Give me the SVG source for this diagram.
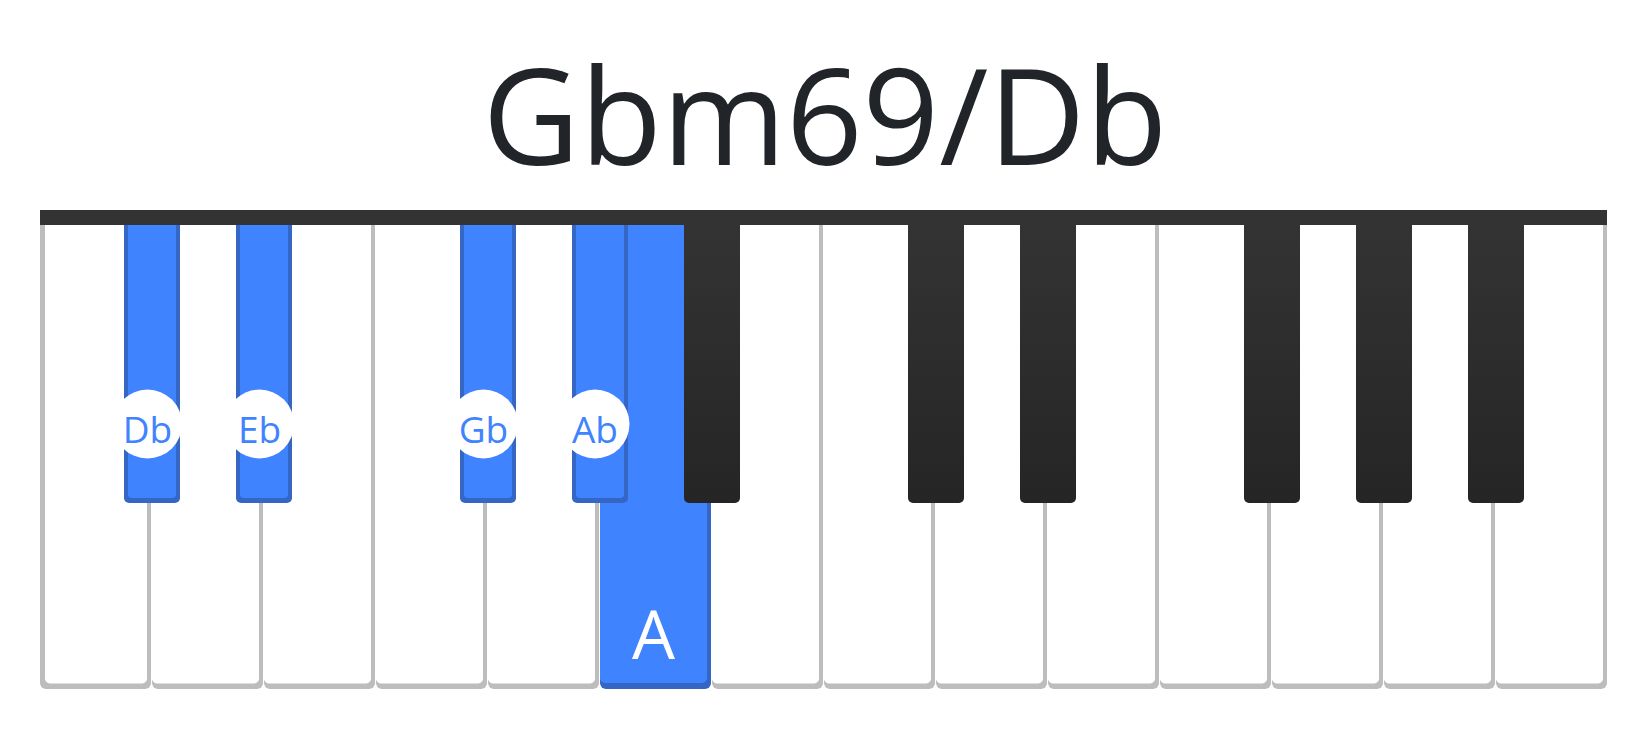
<svg xmlns="http://www.w3.org/2000/svg" width="1650" height="740" viewBox="0 0 1650 740">
<defs>
<linearGradient id="blk" x1="0" y1="0" x2="0" y2="1">
<stop offset="0" stop-color="#343434"/>
<stop offset="1" stop-color="#252525"/>
</linearGradient>
<style>
.wo{fill:#bdbdbd}
.wi{fill:#ffffff}
.bo{fill:#3566c4}
.bi{fill:#3f83ff}
.bk{fill:url(#blk)}
.lc{fill:#ffffff}
.lt{font-family:"Open Sans","Noto Sans","Liberation Sans",sans-serif;font-size:37px;fill:#3f83ff;text-anchor:middle}
.at{font-family:"Open Sans","Noto Sans","Liberation Sans",sans-serif;font-size:68px;fill:#ffffff;text-anchor:middle}
.title{font-family:"Open Sans","Noto Sans","Liberation Sans",sans-serif;font-size:134px;fill:#212529;text-anchor:middle}
</style>
</defs>
<rect width="1650" height="740" fill="#ffffff"/>
<text class="title" x="825" y="165">Gbm69/Db</text>
<g id="white-keys">
<g id="w0-C"><rect class="wo" x="40" y="210" width="111" height="479" rx="6"/><rect class="wi" x="45" y="210" width="102" height="473.5" rx="5"/></g>
<g id="w1-D"><rect class="wo" x="152" y="210" width="111" height="479" rx="6"/><rect class="wi" x="152" y="210" width="107" height="473.5" rx="5"/></g>
<g id="w2-E"><rect class="wo" x="264" y="210" width="111" height="479" rx="6"/><rect class="wi" x="264" y="210" width="107" height="473.5" rx="5"/></g>
<g id="w3-F"><rect class="wo" x="376" y="210" width="111" height="479" rx="6"/><rect class="wi" x="376" y="210" width="107" height="473.5" rx="5"/></g>
<g id="w4-G"><rect class="wo" x="488" y="210" width="111" height="479" rx="6"/><rect class="wi" x="488" y="210" width="107" height="473.5" rx="5"/></g>
<g id="w5-A"><rect class="bo" x="600" y="210" width="111" height="479" rx="6"/><rect class="bi" x="600" y="210" width="107" height="473" rx="5"/><text class="at" x="653.5" y="659">A</text></g>
<g id="w6-B"><rect class="wo" x="712" y="210" width="111" height="479" rx="6"/><rect class="wi" x="712" y="210" width="107" height="473.5" rx="5"/></g>
<g id="w7-C"><rect class="wo" x="824" y="210" width="111" height="479" rx="6"/><rect class="wi" x="824" y="210" width="107" height="473.5" rx="5"/></g>
<g id="w8-D"><rect class="wo" x="936" y="210" width="111" height="479" rx="6"/><rect class="wi" x="936" y="210" width="107" height="473.5" rx="5"/></g>
<g id="w9-E"><rect class="wo" x="1048" y="210" width="111" height="479" rx="6"/><rect class="wi" x="1048" y="210" width="107" height="473.5" rx="5"/></g>
<g id="w10-F"><rect class="wo" x="1160" y="210" width="111" height="479" rx="6"/><rect class="wi" x="1160" y="210" width="107" height="473.5" rx="5"/></g>
<g id="w11-G"><rect class="wo" x="1272" y="210" width="111" height="479" rx="6"/><rect class="wi" x="1272" y="210" width="107" height="473.5" rx="5"/></g>
<g id="w12-A"><rect class="wo" x="1384" y="210" width="111" height="479" rx="6"/><rect class="wi" x="1384" y="210" width="107" height="473.5" rx="5"/></g>
<g id="w13-B"><rect class="wo" x="1496" y="210" width="111" height="479" rx="6"/><rect class="wi" x="1496" y="210" width="107" height="473.5" rx="5"/></g>
</g>
<g id="black-keys">
<g id="b1-Db"><rect class="bo" x="124" y="210" width="56" height="293" rx="5"/><rect class="bi" x="128" y="210" width="48" height="288" rx="4"/></g>
<g id="b2-Eb"><rect class="bo" x="236" y="210" width="56" height="293" rx="5"/><rect class="bi" x="240" y="210" width="48" height="288" rx="4"/></g>
<g id="b4-Gb"><rect class="bo" x="460" y="210" width="56" height="293" rx="5"/><rect class="bi" x="464" y="210" width="48" height="288" rx="4"/></g>
<g id="b5-Ab"><rect class="bo" x="572" y="210" width="56" height="293" rx="5"/><rect class="bi" x="576" y="210" width="48" height="288" rx="4"/></g>
<g id="b6-Bb"><rect class="bk" x="684" y="210" width="56" height="293" rx="5"/></g>
<g id="b8-Db"><rect class="bk" x="908" y="210" width="56" height="293" rx="5"/></g>
<g id="b9-Eb"><rect class="bk" x="1020" y="210" width="56" height="293" rx="5"/></g>
<g id="b11-Gb"><rect class="bk" x="1244" y="210" width="56" height="293" rx="5"/></g>
<g id="b12-Ab"><rect class="bk" x="1356" y="210" width="56" height="293" rx="5"/></g>
<g id="b13-Bb"><rect class="bk" x="1468" y="210" width="56" height="293" rx="5"/></g>
</g>
<rect id="bar" x="40" y="210" width="1567" height="15" fill="#333333"/>
<g id="labels">
<g id="l-Db"><circle class="lc" cx="147.5" cy="424" r="34.5"/><text class="lt" x="147.5" y="443">Db</text></g>
<g id="l-Eb"><circle class="lc" cx="259.5" cy="424" r="34.5"/><text class="lt" x="259.5" y="443">Eb</text></g>
<g id="l-Gb"><circle class="lc" cx="483.5" cy="424" r="34.5"/><text class="lt" x="483.5" y="443">Gb</text></g>
<g id="l-Ab"><circle class="lc" cx="595" cy="424" r="34.5"/><text class="lt" x="595" y="443">Ab</text></g>
</g>
</svg>
